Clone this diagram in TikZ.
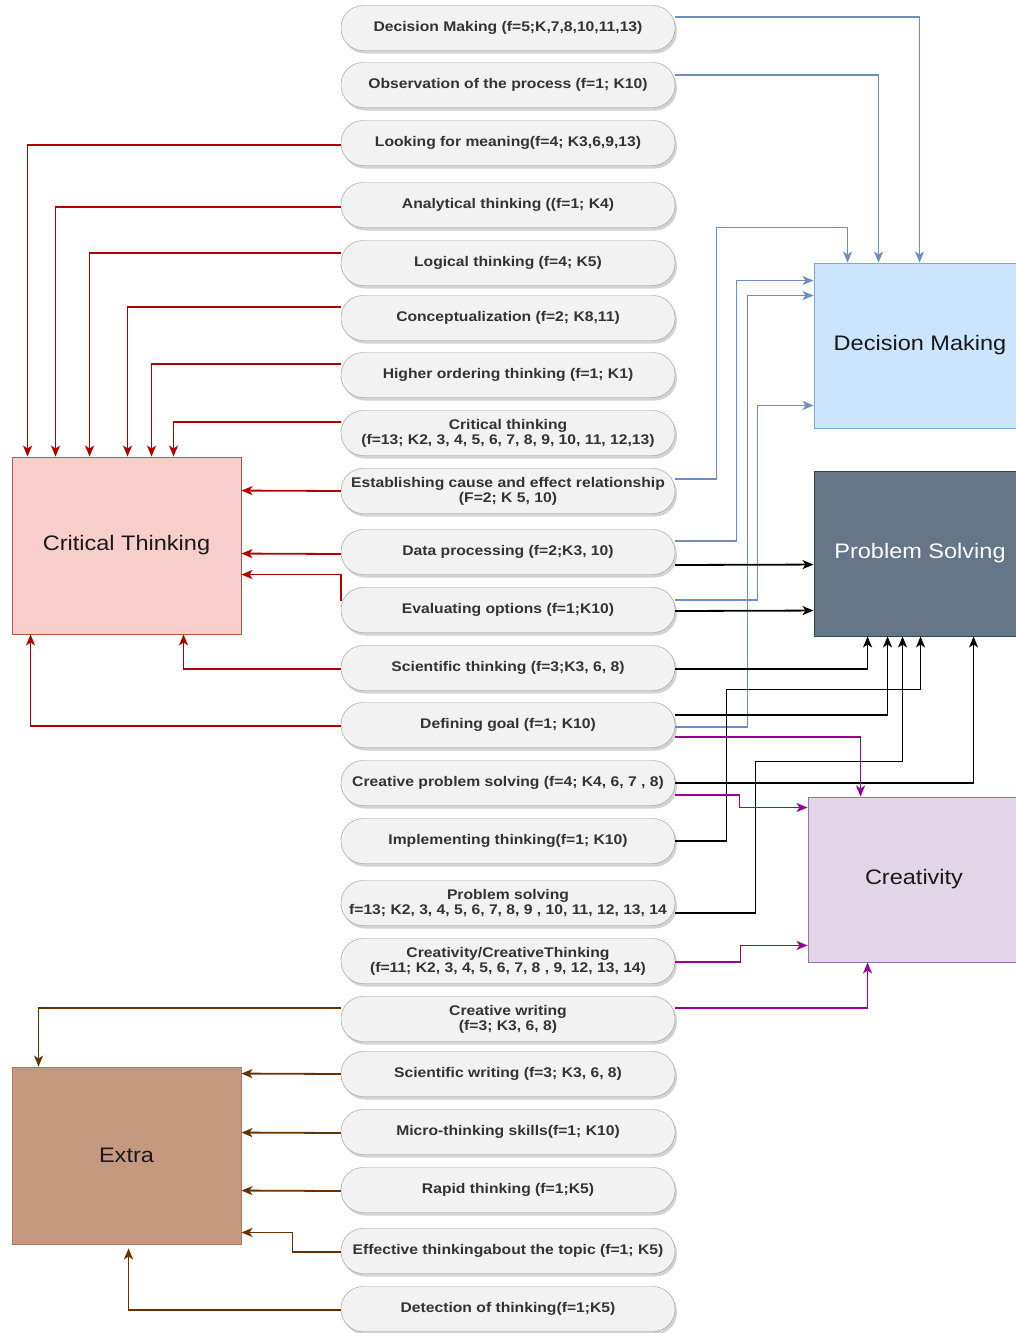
\documentclass[tikz,border=0pt]{standalone}
\usepackage{fontspec}
\setmainfont{Liberation Sans}[FakeStretch=1.12]
\usetikzlibrary{arrows.meta,shadows}

\definecolor{ctfill}{HTML}{F8CECC}
\definecolor{ctdraw}{HTML}{B85450}
\definecolor{dmfill}{HTML}{CCE5FF}
\definecolor{dmdraw}{HTML}{7EA6E0}
\definecolor{psfill}{HTML}{647687}
\definecolor{psdraw}{HTML}{314354}
\definecolor{crfill}{HTML}{E1D5E7}
\definecolor{crdraw}{HTML}{9673A6}
\definecolor{exfill}{HTML}{C59880}
\definecolor{exdraw}{HTML}{A87A62}
\definecolor{redline}{HTML}{B20000}
\definecolor{blueline}{HTML}{6C8EBF}
\definecolor{purpline}{HTML}{990099}
\definecolor{brownline}{HTML}{663300}

\begin{document}
\begin{tikzpicture}[x=1pt,y=-1pt,
    pill/.style={draw=black!40, fill=black!5, rounded corners=22pt,
      minimum width=334pt, minimum height=45pt, inner sep=0pt, align=center,
      text=black!80, font=\fontsize{14}{15}\selectfont\bfseries,
      drop shadow={shadow xshift=2pt, shadow yshift=-3pt, opacity=0.35}},
    bigbox/.style={draw, line width=0.9pt, text=black!90,
      font=\fontsize{21}{24}\selectfont},
    con/.style={line width=1.8pt, -{Stealth[length=11pt,width=9pt,inset=3pt]}},
    ctline/.style={con, draw=redline, color=redline},
    dmline/.style={con, draw=blueline, color=blueline},
    psline/.style={con, draw=black, color=black},
    crline/.style={con, draw=purpline, color=purpline},
    exline/.style={con, draw=brownline, color=brownline}]
  \useasboundingbox (0,0) rectangle (1016,1333);
  \clip (0,0) rectangle (1016,1333);

  % the five groups
  \node[bigbox, fill=ctfill, draw=ctdraw, minimum width=229pt, minimum height=177pt] (CT) at (126.5,545.5) {Critical Thinking};
  \node[bigbox, fill=dmfill, draw=dmdraw, minimum width=212pt, minimum height=165pt] (DM) at (920,345.5) {Decision Making};
  \node[bigbox, fill=psfill, draw=psdraw, text=white, minimum width=212pt, minimum height=165pt] (PS) at (920,553.5) {Problem Solving};
  \node[bigbox, fill=crfill, draw=crdraw, minimum width=212pt, minimum height=165pt] (CR) at (914,879.5) {Creativity};
  \node[bigbox, fill=exfill, draw=exdraw, minimum width=229pt, minimum height=177pt] (EX) at (126.5,1155.5) {Extra};

  % the skills
  \node[pill] (dmk) at (508,28) {Decision Making (f=5;K,7,8,10,11,13)};
  \node[pill] (obs) at (508,85) {Observation of the process (f=1; K10)};
  \node[pill] (mean) at (508,143) {Looking for meaning(f=4; K3,6,9,13)};
  \node[pill] (anal) at (508,205) {Analytical thinking ((f=1; K4)};
  \node[pill] (logic) at (508,263) {Logical thinking (f=4; K5)};
  \node[pill] (concept) at (508,318) {Conceptualization (f=2; K8,11)};
  \node[pill] (higher) at (508,375) {Higher ordering thinking (f=1; K1)};
  \node[pill] (crit) at (508,433) {Critical thinking\\(f=13; K2, 3, 4, 5, 6, 7, 8, 9, 10, 11, 12,13)};
  \node[pill] (cause) at (508,491) {Establishing cause and effect relationship\\(F=2; K 5, 10)};
  \node[pill] (data) at (508,552) {Data processing (f=2;K3, 10)};
  \node[pill] (evalopt) at (508,610) {Evaluating options (f=1;K10)};
  \node[pill] (scith) at (508,668) {Scientific thinking (f=3;K3, 6, 8)};
  \node[pill] (goal) at (508,725) {Defining goal (f=1; K10)};
  \node[pill] (cps) at (508,783) {Creative problem solving (f=4; K4, 6, 7 , 8)};
  \node[pill] (impl) at (508,841) {Implementing thinking(f=1; K10)};
  \node[pill] (probsol) at (508,903) {Problem solving\\f=13; K2, 3, 4, 5, 6, 7, 8, 9 , 10, 11, 12, 13, 14};
  \node[pill] (creat) at (508,961) {Creativity/CreativeThinking\\(f=11; K2, 3, 4, 5, 6, 7, 8 , 9, 12, 13, 14)};
  \node[pill] (cwrite) at (508,1019) {Creative writing\\(f=3; K3, 6, 8)};
  \node[pill] (swrite) at (508,1074) {Scientific writing (f=3; K3, 6, 8)};
  \node[pill] (micro) at (508,1132) {Micro-thinking skills(f=1; K10)};
  \node[pill] (rapid) at (508,1190) {Rapid thinking (f=1;K5)};
  \node[pill] (effect) at (508,1251) {Effective thinkingabout the topic (f=1; K5)};
  \node[pill] (detect) at (508,1309) {Detection of thinking(f=1;K5)};

  % into critical thinking
  \draw[ctline] ([yshift=-2pt]mean.west) -| ([xshift=16pt]CT.north west);
  \draw[ctline] ([yshift=-2pt]anal.west) -| ([xshift=44pt]CT.north west);
  \draw[ctline] ([yshift=10pt]logic.west) -| ([xshift=78pt]CT.north west);
  \draw[ctline] ([yshift=11pt]concept.west) -| ([xshift=116pt]CT.north west);
  \draw[ctline] ([yshift=11pt]higher.west) -| ([xshift=140pt]CT.north west);
  \draw[ctline] ([yshift=11pt]crit.west) -| ([xshift=162pt]CT.north west);
  \draw[ctline] (cause.west) -- ([yshift=-34pt]CT.north east);
  \draw[ctline] ([yshift=-2pt]data.west) -- ([yshift=-97pt]CT.north east);
  \draw[ctline] ([yshift=9pt]evalopt.west) |- ([yshift=-118pt]CT.north east);
  \draw[ctline] ([yshift=-1pt]scith.west) -| ([xshift=172pt]CT.south west);
  \draw[ctline] ([yshift=-1pt]goal.west) -| ([xshift=19pt]CT.south west);

  % into decision making
  \draw[dmline] ([yshift=11pt]dmk.east) -| ([xshift=106pt]DM.north west);
  \draw[dmline] ([yshift=10pt]obs.east) -| ([xshift=65pt]DM.north west);
  \draw[dmline] ([yshift=12pt]cause.east) -| ([xshift=-97pt,yshift=35pt]DM.north west) -| ([xshift=34pt]DM.north west);
  \draw[dmline] ([yshift=11pt]data.east) -| ([xshift=-77pt,yshift=-18pt]DM.north west) -- ([yshift=-18pt]DM.north west);
  \draw[dmline] ([yshift=-2pt]goal.east) -| ([xshift=-66pt,yshift=-33pt]DM.north west) -- ([yshift=-33pt]DM.north west);
  \draw[dmline] ([yshift=10pt]evalopt.east) -| ([xshift=-56pt,yshift=23pt]DM.south west) -- ([yshift=23pt]DM.south west);

  % into problem solving
  \draw[psline] ([yshift=-13pt]data.east) -- ([yshift=-94pt]PS.north west);
  \draw[psline] ([yshift=-1pt]evalopt.east) -- ([yshift=-140pt]PS.north west);
  \draw[psline] ([yshift=-1pt]scith.east) -| ([xshift=54pt]PS.south west);
  \draw[psline] ([yshift=10pt]goal.east) -| ([xshift=74pt]PS.south west);
  \draw[psline] (impl.east) -| ([xshift=-87pt,yshift=-53pt]PS.south west) -| ([xshift=107pt]PS.south west);
  \draw[psline] ([yshift=-10pt]probsol.east) -| ([xshift=-58pt,yshift=-125pt]PS.south west) -| ([xshift=89pt]PS.south west);
  \draw[psline] (cps.east) -| ([xshift=160pt]PS.south west);

  % into creativity
  \draw[crline] ([yshift=-12pt]goal.east) -| ([xshift=53pt]CR.north west);
  \draw[crline] ([yshift=-12pt]cps.east) -| ([xshift=-68pt,yshift=-11pt]CR.north west) -- ([yshift=-11pt]CR.north west);
  \draw[crline] ([yshift=-1pt]creat.east) -| ([xshift=-67pt,yshift=17pt]CR.south west) -- ([yshift=17pt]CR.south west);
  \draw[crline] ([yshift=11pt]cwrite.east) -| ([xshift=60pt]CR.south west);

  % into extra
  \draw[exline] ([yshift=11pt]cwrite.west) -| ([xshift=27pt]EX.north west);
  \draw[exline] (swrite.west) -- ([yshift=-7pt]EX.north east);
  \draw[exline] ([yshift=-1pt]micro.west) -- ([yshift=-66pt]EX.north east);
  \draw[exline] ([yshift=-1pt]rapid.west) -- ([yshift=-124pt]EX.north east);
  \draw[exline] ([yshift=-1pt]effect.west) -| ([xshift=51pt,yshift=12pt]EX.south east) -- ([yshift=12pt]EX.south east);
  \draw[exline] ([yshift=-1pt]detect.west) -| ([xshift=117pt,yshift=-4pt]EX.south west);
\end{tikzpicture}
\end{document}
